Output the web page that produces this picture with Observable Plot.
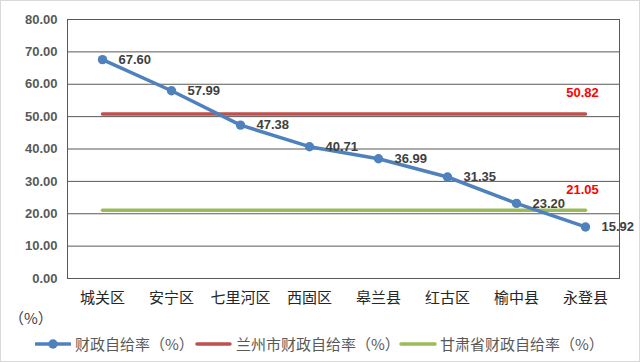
<!DOCTYPE html>
<html>
<head>
<meta charset="utf-8">
<script src="https://cdn.jsdelivr.net/npm/d3@7"></script>
<script src="https://cdn.jsdelivr.net/npm/@observablehq/plot@0.6"></script>
<style>
  html, body { margin: 0; padding: 0; background: #fff; }
  #wrap { position: relative; width: 640px; height: 362px; overflow: hidden; background: #fff; }
  #border { position: absolute; left: 0; top: 0; width: 640px; height: 362px; box-sizing: border-box; border: 1px solid #d9d9d9; pointer-events: none; }
  #chart { position: absolute; left: 0; top: 0; }
  .cjk { font-family: "Noto Sans CJK SC", "Noto Sans", sans-serif; }
  #unit { position: absolute; left: 9px; top: 307px; font-size: 15px; line-height: 22px; color: #404040; }
  .leg { position: absolute; top: 333px; height: 22px; line-height: 22px; font-size: 15px; color: #595959; white-space: nowrap; }
  .sw { position: absolute; top: 338px; }
</style>
</head>
<body>
<div id="wrap">
  <div id="chart"></div>
  <div id="unit" class="cjk">（%）</div>
  <svg class="sw" style="left:35px" width="36" height="12"><line x1="1" y1="6" x2="35" y2="6" stroke="#4F81BD" stroke-width="3.5" stroke-linecap="round"/><circle cx="18" cy="6" r="4.7" fill="#4F81BD"/></svg>
  <div class="leg cjk" style="left:75px" id="leg1"></div>
  <svg class="sw" style="left:195px" width="37" height="12"><line x1="2" y1="6" x2="35" y2="6" stroke="#C0504D" stroke-width="3.5" stroke-linecap="round"/></svg>
  <div class="leg cjk" style="left:236px" id="leg2"></div>
  <svg class="sw" style="left:399px" width="38" height="12"><line x1="2" y1="6" x2="36" y2="6" stroke="#9BBB59" stroke-width="3.5" stroke-linecap="round"/></svg>
  <div class="leg cjk" style="left:440px" id="leg3"></div>
  <div id="border"></div>
</div>
<script>
// ---- data ----
const categories = ["城关区", "安宁区", "七里河区", "西固区", "皋兰县", "红古区", "榆中县", "永登县"];
const selfRate = [67.60, 57.99, 47.38, 40.71, 36.99, 31.35, 23.20, 15.92];
const lanzhouRate = [50.82, 50.82, 50.82, 50.82, 50.82, 50.82, 50.82, 50.82];
const gansuRate = [21.05, 21.05, 21.05, 21.05, 21.05, 21.05, 21.05, 21.05];
const yTicks = [0, 10, 20, 30, 40, 50, 60, 70, 80];
const seriesNames = ["财政自给率（%）", "兰州市财政自给率（%）", "甘肃省财政自给率（%）"];

document.getElementById("leg1").textContent = seriesNames[0];
document.getElementById("leg2").textContent = seriesNames[1];
document.getElementById("leg3").textContent = seriesNames[2];

const rows = categories.map((c, i) => ({cat: c, v: selfRate[i], lz: lanzhouRate[i], gs: gansuRate[i]}));
const last = rows[rows.length - 1];

const numFont = "'Liberation Sans', Arial, sans-serif";

const chart = Plot.plot({
  width: 640,
  height: 305,
  marginLeft: 67,
  marginRight: 21,
  marginTop: 19,
  marginBottom: 27,
  style: { background: "transparent", overflow: "visible" },
  x: { type: "point", domain: categories, padding: 0.5, label: null },
  y: { domain: [0, 80], ticks: yTicks, label: null },
  marks: [
    Plot.gridY(yTicks, { stroke: "#595959", strokeOpacity: 1, strokeWidth: 1 }),
    Plot.frame({ stroke: "#595959", strokeWidth: 1 }),
    Plot.axisY(yTicks, {
      tickSize: 0, tickPadding: 10, label: null,
      tickFormat: d => d.toFixed(2),
      fontSize: 13, fontWeight: "bold", fill: "#595959", fontFamily: numFont
    }),
    Plot.axisX({
      tickSize: 0, tickPadding: 14, label: null,
      fontSize: 15, fill: "#262626", fontFamily: "'Noto Sans CJK SC', sans-serif"
    }),
    Plot.lineY(rows, { x: "cat", y: "lz", stroke: "#C0504D", strokeWidth: 3.5 }),
    Plot.lineY(rows, { x: "cat", y: "gs", stroke: "#9BBB59", strokeWidth: 3.5 }),
    Plot.lineY(rows, { x: "cat", y: "v", stroke: "#4F81BD", strokeWidth: 3.5 }),
    Plot.dot(rows, { x: "cat", y: "v", r: 4.7, fill: "#4F81BD", stroke: "none" }),
    Plot.text(rows, {
      x: "cat", y: "v", text: d => d.v.toFixed(2), dx: 16, textAnchor: "start",
      fontSize: 13, fontWeight: "bold", fill: "#404040", fontFamily: numFont
    }),
    Plot.text([last], {
      x: "cat", y: "lz", text: d => d.lz.toFixed(2), dx: -3, dy: -21,
      fontSize: 13, fontWeight: "bold", fill: "#FF0000", fontFamily: numFont
    }),
    Plot.text([last], {
      x: "cat", y: "gs", text: d => d.gs.toFixed(2), dx: -3, dy: -21,
      fontSize: 13, fontWeight: "bold", fill: "#FF0000", fontFamily: numFont
    })
  ]
});
document.getElementById("chart").appendChild(chart);
</script>
</body>
</html>
